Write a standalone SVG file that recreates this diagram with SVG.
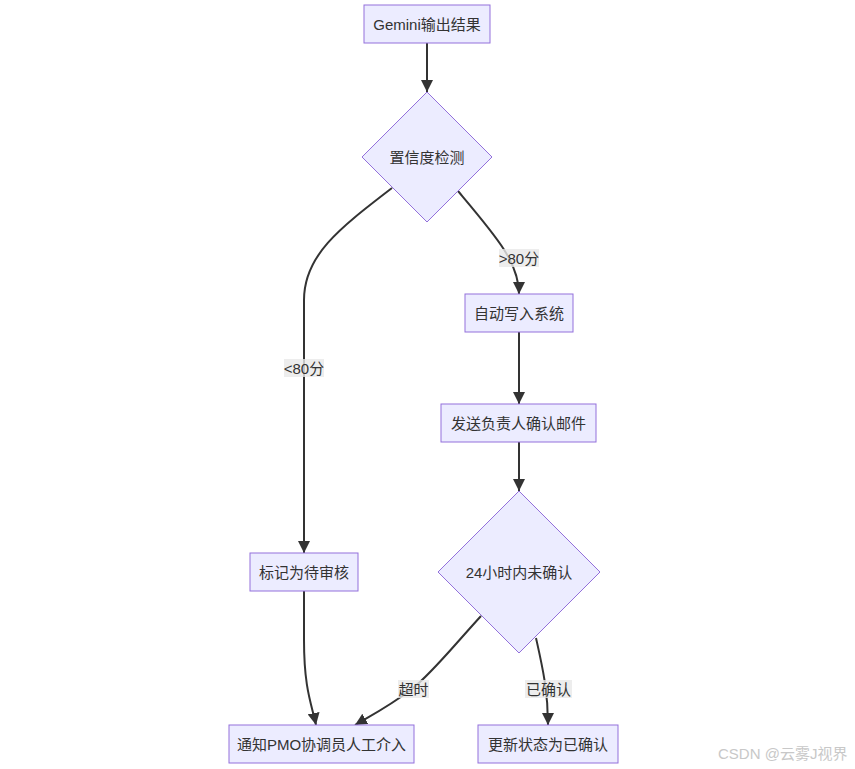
<svg xmlns="http://www.w3.org/2000/svg" width="855" height="769" viewBox="0 0 855 769">
<defs>
<style>
.node rect, .node polygon { fill: #ECECFF; stroke: #9370DB; stroke-width: 1; }
.node text { font-family: "Liberation Sans", "Noto Sans CJK SC", sans-serif; font-size: 15px; fill: #333333; text-anchor: middle; dominant-baseline: central; }
.edge { fill: none; stroke: #333333; stroke-width: 2; marker-end: url(#arrow); }
.lbl rect { fill: #E8E8E8; fill-opacity: 0.8; }
.lbl text { font-family: "Liberation Sans", "Noto Sans CJK SC", sans-serif; font-size: 15px; fill: #333333; text-anchor: middle; dominant-baseline: central; }
.wm { font-family: "Liberation Sans", "Noto Sans CJK SC", sans-serif; font-size: 15px; fill: #C8C8C8; }
</style>
<marker id="arrow" markerUnits="userSpaceOnUse" markerWidth="12" markerHeight="12" refX="10" refY="5" orient="auto" viewBox="0 0 10 10">
<path d="M0,0 L10,5 L0,10 z" fill="#333333"/>
</marker>
</defs>
<rect width="855" height="769" fill="#FFFFFF"/>
<g id="connectors">
<path class="edge" d="M427,43 L427,92"/>
<path class="edge" d="M392,188 C340,228 304,255 304,300 L304,553"/>
<path class="edge" d="M458,191 C495,235 519,262 519,294"/>
<path class="edge" d="M519,332 L519,404"/>
<path class="edge" d="M519,442 L519,491"/>
<path class="edge" d="M304,591 L304,640 C304,690 312,705 316,725"/>
<path class="edge" d="M481,616 C450,650 432,673 412,689 C388,707 372,715 355,725"/>
<path class="edge" d="M536,638 C542,665 548,690 548,725"/>
<g class="lbl"><rect x="284" y="359" width="40" height="18"/><text x="304" y="368">&lt;80分</text></g>
<g class="lbl"><rect x="499" y="249" width="40" height="18"/><text x="519" y="258">&gt;80分</text></g>
<g class="lbl"><rect x="398" y="680" width="31" height="18"/><text x="413.5" y="689">超时</text></g>
<g class="lbl"><rect x="525" y="680" width="47" height="18"/><text x="548.5" y="689">已确认</text></g>
</g>
<g id="gemini" class="node"><rect x="364" y="5" width="126" height="38"/><text x="427" y="24">Gemini输出结果</text></g>
<g id="check" class="node"><polygon points="427,92 492,157 427,222 362,157"/><text x="427" y="157">置信度检测</text></g>
<g id="auto" class="node"><rect x="465" y="294" width="108" height="38"/><text x="519" y="313">自动写入系统</text></g>
<g id="mail" class="node"><rect x="441" y="404" width="155" height="38"/><text x="518.5" y="423">发送负责人确认邮件</text></g>
<g id="wait" class="node"><polygon points="519,491 600,572 519,653 438,572"/><text x="519" y="572">24小时内未确认</text></g>
<g id="mark" class="node"><rect x="250" y="553" width="108" height="38"/><text x="304" y="572">标记为待审核</text></g>
<g id="notify" class="node"><rect x="229" y="725" width="185" height="38"/><text x="321.5" y="744">通知PMO协调员人工介入</text></g>
<g id="update" class="node"><rect x="478" y="725" width="140" height="38"/><text x="548" y="744">更新状态为已确认</text></g>
<text class="wm" x="718" y="759">CSDN @云雾J视界</text>
</svg>
